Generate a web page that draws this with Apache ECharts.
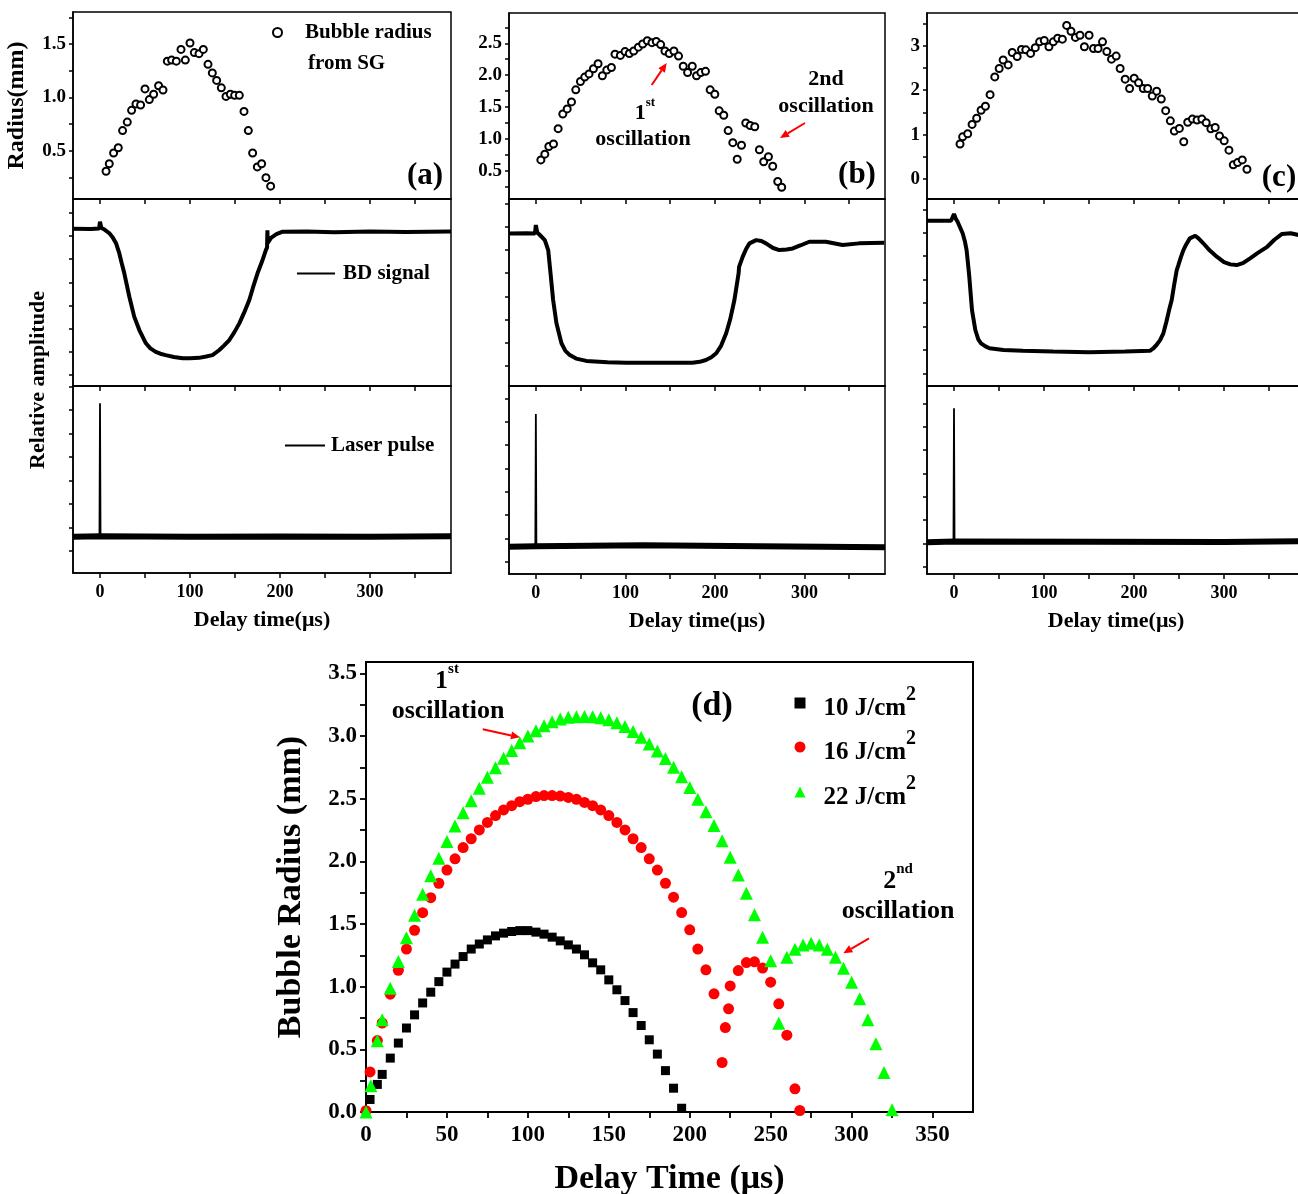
<!DOCTYPE html>
<html><head><meta charset="utf-8">
<script src="https://cdn.jsdelivr.net/npm/echarts@6/dist/echarts.min.js"></script>
<style>html,body{margin:0;padding:0;background:#fff}#c{width:1298px;height:1194px}</style>
</head><body><div id="c"></div>
<script>
// ---------- DATA ----------
// Panel (a)-(c), top: bubble radius from shadowgraph (delay µs, radius mm)
const radiusA = [[6.7,0.31],[10.3,0.38],[15.1,0.48],[20.3,0.53],[25.1,0.69],[30.3,0.77],[35.1,0.88],[40,0.94],[45.1,0.93],[50,1.08],[54.8,0.98],[59.6,1.03],[65.1,1.11],[70,1.07],[74.8,1.34],[79.6,1.35],[84.8,1.34],[90,1.45],[94.8,1.35],[100,1.51],[104.8,1.42],[110,1.41],[114.8,1.45],[120,1.31],[124.8,1.23],[129.6,1.16],[134.8,1.09],[140,1.01],[144.8,1.03],[149.6,1.02],[154.8,1.02],[160,0.87],[164.8,0.69],[169.6,0.48],[174.8,0.35],[179.6,0.38],[184.4,0.25],[189.6,0.17]];
const radiusB = [[5.6,0.67],[10,0.76],[14.5,0.88],[19.7,0.92],[24.9,1.16],[30.1,1.39],[35,1.47],[39.8,1.58],[44.6,1.77],[49.8,1.90],[54.6,1.97],[59.4,2.02],[64.3,2.10],[69.5,2.18],[74.3,1.99],[79.2,2.08],[84.4,2.12],[88.4,2.33],[94.4,2.31],[99.6,2.37],[104.4,2.34],[109.3,2.38],[114.5,2.44],[119.3,2.49],[124.5,2.54],[129.7,2.51],[134.5,2.53],[139.4,2.48],[144.2,2.38],[149,2.34],[154.2,2.38],[159.4,2.30],[164.6,2.14],[169.5,2.04],[174.7,2.14],[179.5,1.99],[184.3,2.04],[189.5,2.06],[194.7,1.77],[199.9,1.70],[204.8,1.44],[209.9,1.37],[214.8,1.13],[220,0.94],[224.9,0.68],[229.7,0.90],[234.5,1.25],[239.4,1.21],[244.5,1.19],[249.7,0.83],[254.5,0.64],[259.8,0.72],[264.6,0.57],[270.2,0.33],[274.6,0.24]];
const radiusC = [[6.7,0.79],[9.6,0.95],[15.2,1.02],[20.1,1.23],[25.2,1.37],[30.1,1.55],[34.9,1.64],[40.1,1.90],[45.3,2.30],[50.2,2.49],[54.6,2.68],[60.2,2.57],[64.7,2.85],[70.2,2.76],[75,2.92],[79.8,2.91],[85.1,2.83],[90.3,2.96],[95.1,3.09],[100.3,3.12],[105.5,2.98],[110.3,3.09],[115.2,3.17],[120.4,3.15],[125.2,3.46],[130,3.33],[134.9,3.19],[140,3.24],[144.9,2.98],[150.1,3.24],[155,2.94],[160.1,2.94],[165,3.09],[169.8,2.87],[175,2.70],[180.2,2.77],[184.6,2.49],[190.2,2.25],[195.1,2.04],[200.2,2.27],[205.1,2.17],[210.3,2.04],[215.2,2.04],[220.3,1.87],[225.2,1.98],[230.3,1.80],[235.2,1.54],[240.4,1.31],[244.8,1.08],[250.4,1.14],[255.3,0.84],[259.7,1.28],[264.9,1.35],[270.1,1.33],[275.4,1.35],[280.2,1.27],[285.4,1.13],[290.2,1.16],[295,0.97],[300.2,0.86],[305.5,0.65],[310.3,0.32],[315.1,0.37],[320.3,0.43],[325.5,0.22]];

// Middle: beam-deflection (BD) signal, relative amplitude (tick units)
const bdA = [[-30,6.31],[-10,6.30],[-1,6.33],[0,6.62],[1.5,6.35],[5,6.28],[10.4,6.12],[14,5.95],[17.8,5.69],[21.4,5.26],[24,4.85],[27,4.39],[32.6,3.38],[38,2.52],[43.7,1.94],[51,1.37],[56,1.15],[62,1.00],[67,0.92],[73,0.86],[82,0.78],[92,0.72],[100,0.72],[110,0.74],[118,0.80],[125,0.86],[132.6,1.08],[138,1.28],[143.7,1.51],[149,1.83],[154.8,2.23],[160,2.68],[165.9,3.24],[170,3.78],[175,4.39],[180,4.90],[184.4,5.40],[185.6,5.50],[186,6.25],[186.4,5.70],[190,5.92],[196,6.08],[203,6.19],[230,6.20],[260,6.16],[300,6.20],[340,6.18],[390,6.20]];
const bdB = [[-30,5.71],[-10,5.72],[-1,5.71],[0,6.07],[1.5,5.75],[4.5,5.64],[10,5.42],[13.8,4.99],[16.4,3.99],[19.3,2.84],[23,1.84],[28.6,0.98],[33,0.65],[37.9,0.47],[45,0.32],[56.5,0.22],[80,0.16],[101,0.14],[140,0.14],[175,0.14],[183,0.18],[190,0.26],[196,0.38],[201.5,0.55],[207,0.88],[212.6,1.41],[217,2.00],[221.8,2.84],[226.5,4.00],[227,4.27],[231,4.70],[235,5.05],[238.6,5.28],[246,5.42],[252,5.38],[257,5.28],[265,5.08],[272,4.99],[280,5.02],[287,5.06],[296,5.20],[305.5,5.35],[324,5.35],[342.6,5.21],[361,5.28],[389,5.31]];
const bdC = [[-30,6.51],[-3.3,6.51],[0,6.80],[2,6.60],[4,6.47],[9.6,5.98],[12,5.65],[14,5.26],[15.5,4.70],[17,4.12],[20,2.70],[23.7,1.85],[27,1.45],[30,1.28],[35,1.15],[39.4,1.07],[55,1.00],[76.5,0.96],[110,0.93],[150,0.90],[190,0.93],[217.7,0.96],[221,1.05],[225,1.21],[229,1.42],[232.6,1.71],[236,2.20],[239,2.70],[241.9,3.13],[244.5,3.75],[247.5,4.41],[249.3,4.62],[252,4.95],[254.9,5.26],[258,5.50],[262,5.76],[268,5.87],[272,5.75],[277,5.55],[284,5.25],[292,4.98],[300,4.75],[307,4.65],[314,4.62],[321,4.70],[329,4.91],[338,5.15],[348,5.40],[356,5.70],[364.5,5.95],[374,5.98],[383,5.90],[390,5.92]];

// Bottom: laser pulse (baseline + spike at t = 0)
const laserBaseA = [[-30,0.60],[0,0.62],[100,0.60],[200,0.61],[300,0.60],[390,0.62]];
const laserSpikeA = [[-0.6,0.61],[0,6.29],[0.6,0.61]];
const laserBaseB = [[-30,0.64],[0,0.66],[120,0.70],[250,0.66],[390,0.62]];
const laserSpikeB = [[-0.6,0.66],[0,6.33],[0.6,0.66]];
const laserBaseC = [[-30,1.05],[0,1.08],[150,1.07],[300,1.06],[390,1.10]];
const laserSpikeC = [[-0.6,1.07],[0,6.79],[0.6,1.07]];

// Panel (d): bubble radius vs delay time for three fluences
const fluenceNames = ['10 J/cm2','16 J/cm2','22 J/cm2'];
const radius10 = [[2.5,0.10],[7,0.22],[10,0.30],[15,0.43],[20,0.55],[25,0.67],[30,0.775],[35,0.87],[40,0.956],[45,1.04],[50,1.116],[55,1.18],[60,1.24],[65,1.30],[70,1.34],[75,1.373],[80,1.405],[85,1.427],[90,1.44],[95,1.447],[100,1.447],[105,1.435],[110,1.419],[115,1.395],[120,1.365],[125,1.333],[130,1.30],[135,1.254],[140,1.19],[145,1.134],[150,1.054],[155,0.975],[160,0.889],[165,0.793],[170,0.69],[175,0.576],[180,0.462],[185,0.33],[190,0.19],[195,0.03]];
const radius16 = [[0,0.01],[2.5,0.32],[7,0.57],[10,0.71],[15,0.94],[20,1.13],[25,1.30],[30,1.45],[35,1.59],[40,1.71],[45,1.825],[50,1.93],[55,2.02],[60,2.11],[65,2.18],[70,2.25],[75,2.31],[80,2.365],[85,2.41],[90,2.444],[95,2.476],[100,2.495],[105,2.516],[110,2.524],[115,2.524],[120,2.52],[125,2.51],[130,2.495],[135,2.47],[140,2.444],[145,2.41],[150,2.365],[155,2.31],[160,2.25],[165,2.18],[170,2.11],[175,2.02],[180,1.93],[185,1.825],[190,1.714],[195,1.591],[200,1.453],[205,1.30],[210,1.134],[215,0.943],[220,0.395],[222,0.674],[224,0.823],[225,1.006],[230,1.128],[235,1.192],[240,1.198],[245,1.148],[250,1.036],[255,0.863],[260,0.613],[265,0.185],[268,0.012]];
const radius22 = [[0,0.0],[3,0.21],[7,0.568],[10,0.735],[15,0.988],[20,1.20],[25,1.39],[30,1.57],[35,1.737],[40,1.884],[45,2.025],[50,2.157],[55,2.282],[60,2.388],[65,2.484],[70,2.583],[75,2.67],[80,2.747],[85,2.822],[90,2.883],[95,2.946],[100,3.0],[105,3.042],[110,3.082],[115,3.114],[120,3.136],[125,3.149],[130,3.154],[135,3.155],[140,3.153],[145,3.145],[150,3.13],[155,3.105],[160,3.075],[165,3.035],[170,2.99],[175,2.935],[180,2.88],[185,2.82],[190,2.75],[195,2.675],[200,2.588],[205,2.495],[210,2.396],[215,2.285],[220,2.163],[225,2.033],[230,1.89],[235,1.746],[240,1.573],[245,1.395],[250,1.206],[255,0.709],[260,1.235],[265,1.299],[270,1.333],[275,1.347],[280,1.333],[285,1.299],[290,1.235],[295,1.147],[300,1.036],[305,0.903],[310,0.735],[315,0.544],[320,0.315],[325,0.018]];

// Tick values
const topXTicks = [0,50,100,150,200,250,300,350];
const topXLabels = [0,100,200,300];
const ampTicks = [0,1,2,3,4,5,6,7];
const radATicks = [0.25,0.5,0.75,1.0,1.25,1.5,1.75];
const radALabels = [0.5,1.0,1.5];
const radBTicks = [0.25,0.5,0.75,1.0,1.25,1.5,1.75,2.0,2.25,2.5,2.75];
const radBLabels = [0.5,1.0,1.5,2.0,2.5];
const radCTicks = [0,0.5,1,1.5,2,2.5,3,3.5];
const radCLabels = [0,1,2,3];
const dXTicks = [0,25,50,75,100,125,150,175,200,225,250,275,300,325,350];
const dXLabels = [0,50,100,150,200,250,300,350];
const dYTicks = [0,0.25,0.5,0.75,1.0,1.25,1.5,1.75,2.0,2.25,2.5,2.75,3.0,3.25,3.5];
const dYLabels = [0,0.5,1.0,1.5,2.0,2.5,3.0,3.5];

// ---------- CHART ----------
const FONT = "'Liberation Serif','Times New Roman',serif";
const BLK = '#000';
const txt = (size) => ({color:BLK, fontFamily:FONT, fontWeight:'bold', fontSize:size});

const grids = [];
const xAxes = [];
const yAxes = [];
const series = [];
const colLeft = [73, 509, 927];
const colWidth = [378, 376, 378];
const rowTop = [[12,199,386],[13,199,386],[13,199,386]];
const rowH = [[187,187,187],[186,187,188],[186,187,188]];

function tickStyle(len, w){ return {show:true, inside:false, length:len, lineStyle:{color:BLK, width:w}}; }
const axLine = (w) => ({show:true, onZero:false, lineStyle:{color:BLK, width:w}});

const radCfg = [
  {min:0.05, max:1.80, ticks:radATicks, labels:radALabels, dec:1, name:'Radius(mm)'},
  {min:0.056, max:2.976, ticks:radBTicks, labels:radBLabels, dec:1, name:''},
  {min:-0.45, max:3.74, ticks:radCTicks, labels:radCLabels, dec:0, name:''}
];
const bdCfg = [{min:-0.475,max:7.6},{min:-0.86,max:7.19},{min:-0.54,max:7.44}];
const lsCfg = [{min:-0.94,max:7.02},{min:-0.53,max:7.53},{min:-0.31,max:7.74}];
const radData = [radiusA, radiusB, radiusC];
const bdData = [bdA, bdB, bdC];
const lsBase = [laserBaseA, laserBaseB, laserBaseC];
const lsSpike = [laserSpikeA, laserSpikeB, laserSpikeC];
const tags = ['a','b','c'];

for (let c = 0; c < 3; c++) {
  for (let r = 0; r < 3; r++) {
    const gi = grids.length;
    grids.push({left:colLeft[c], top:rowTop[c][r], width:colWidth[c], height:rowH[c][r],
      show:true, borderColor:BLK, borderWidth:1.5, backgroundColor:'transparent',
      containLabel:false, outerBoundsMode:'none'});
    const last = r === 2;
    xAxes.push({type:'value', gridIndex:gi, min:-30, max:390,
      axisLine:axLine(1.5),
      axisTick:Object.assign(tickStyle(5,1.5), {customValues:topXTicks}),
      axisLabel: last ? Object.assign(txt(18), {show:true, customValues:topXLabels, margin:10}) : {show:false},
      splitLine:{show:false},
      name: last ? 'Delay time(μs)' : '', nameLocation:'middle', nameGap:36,
      nameTextStyle: txt(22)});
    if (r === 0) {
      const cfg = radCfg[c];
      yAxes.push({type:'value', gridIndex:gi, min:cfg.min, max:cfg.max,
        axisLine:axLine(1.5),
        axisTick:Object.assign(tickStyle(4,1.5), {customValues:cfg.ticks}),
        axisLabel:Object.assign(txt(19), {customValues:cfg.labels, margin:7, formatter:(v)=>Number(v).toFixed(cfg.dec)}),
        splitLine:{show:false},
        name:cfg.name, nameLocation:'middle', nameGap:44, nameTextStyle:txt(24)});
      series.push({type:'scatter', name: c===0 ? 'Bubble radius' : 'Bubble radius ('+tags[c]+')',
        xAxisIndex:gi, yAxisIndex:gi, data:radData[c], symbol:'emptyCircle', symbolSize:7,
        itemStyle:{color:BLK, borderColor:BLK, borderWidth:1.3, opacity:1}});
    } else {
      const cfg = r === 1 ? bdCfg[c] : lsCfg[c];
      yAxes.push({type:'value', gridIndex:gi, min:cfg.min, max:cfg.max,
        axisLine:axLine(1.5),
        axisTick:Object.assign(tickStyle(4,1.5), {customValues:ampTicks}),
        axisLabel:{show:false}, splitLine:{show:false}});
      if (r === 1) {
        series.push({type:'line', name: c===0 ? 'BD signal' : 'BD signal ('+tags[c]+')',
          xAxisIndex:gi, yAxisIndex:gi, data:bdData[c], symbol:'none',
          lineStyle:{color:BLK, width:4}, itemStyle:{color:BLK}});
      } else {
        const nm = c===0 ? 'Laser pulse' : 'Laser pulse ('+tags[c]+')';
        series.push({type:'line', name:nm, xAxisIndex:gi, yAxisIndex:gi, data:lsBase[c], symbol:'none',
          lineStyle:{color:BLK, width:6}, itemStyle:{color:BLK}});
        series.push({type:'line', name:nm, xAxisIndex:gi, yAxisIndex:gi, data:lsSpike[c], symbol:'none',
          lineStyle:{color:BLK, width:1.8}, itemStyle:{color:BLK}});
      }
    }
  }
}

// panel (d)
grids.push({left:366, top:662, width:607, height:450, show:true, borderColor:BLK, borderWidth:2,
  backgroundColor:'transparent', containLabel:false, outerBoundsMode:'none'});
xAxes.push({type:'value', gridIndex:9, min:0, max:375,
  axisLine:axLine(2),
  axisTick:Object.assign(tickStyle(6,1.8), {customValues:dXTicks}),
  axisLabel:Object.assign(txt(23), {customValues:dXLabels, margin:12}),
  splitLine:{show:false},
  name:'Delay Time (μs)', nameLocation:'middle', nameGap:50, nameTextStyle:txt(34)});
yAxes.push({type:'value', gridIndex:9, min:0, max:3.59,
  axisLine:axLine(2),
  axisTick:Object.assign(tickStyle(6,1.8), {customValues:dYTicks}),
  axisLabel:Object.assign(txt(23), {customValues:dYLabels, margin:9, formatter:(v)=>Number(v).toFixed(1)}),
  splitLine:{show:false},
  name:'Bubble Radius (mm)', nameLocation:'middle', nameGap:58, nameTextStyle:txt(34)});
series.push({type:'scatter', name:fluenceNames[0], xAxisIndex:9, yAxisIndex:9, data:radius10,
  symbol:'rect', symbolSize:9, itemStyle:{color:'#000000', opacity:1}, z:2});
series.push({type:'scatter', name:fluenceNames[1], xAxisIndex:9, yAxisIndex:9, data:radius16,
  symbol:'circle', symbolSize:11, itemStyle:{color:'#ff0000', opacity:1}, z:3});
series.push({type:'scatter', name:fluenceNames[2], xAxisIndex:9, yAxisIndex:9, data:radius22,
  symbol:'triangle', symbolSize:13, itemStyle:{color:'#00ff00', opacity:1}, z:4});

// legends
const supRich = {
  t:Object.assign(txt(25), {lineHeight:36, verticalAlign:'bottom'}),
  s:Object.assign(txt(20), {lineHeight:19, verticalAlign:'top'})
};
const legends = [
  {data:['Bubble radius'], left:272, top:22, orient:'vertical', padding:0, itemWidth:9, itemHeight:9,
   selectedMode:false, textStyle:Object.assign(txt(21), {padding:[0,0,0,18]})},
  {data:['BD signal'], left:297, top:263, padding:0, icon:'rect', itemWidth:38, itemHeight:2, selectedMode:false,
   itemStyle:{color:BLK}, textStyle:Object.assign(txt(21), {padding:[0,0,0,3]})},
  {data:['Laser pulse'], left:285, top:435, padding:0, icon:'rect', itemWidth:40, itemHeight:2, selectedMode:false,
   itemStyle:{color:BLK}, textStyle:Object.assign(txt(21), {padding:[0,0,0,1]})}
];
const legendY = [703, 747, 792];
fluenceNames.forEach((n, i) => {
  legends.push({data:[n], left:794.5, top:legendY[i]-18, padding:0, itemWidth:11, itemHeight:11,
    selectedMode:false,
    formatter:(name)=>'{t|'+name.slice(0,-1)+'}{s|2}',
    textStyle:{padding:[0,0,0,13], rich:supRich}});
});

// annotations
function T(x, y, text, size, extra){
  return {type:'text', x, y, z:100, style:Object.assign({text, fill:BLK, fontFamily:FONT, fontWeight:'bold',
    fontSize:size, align:'center', verticalAlign:'middle'}, extra||{})};
}
function ordinal(x, y, num, suf, size, supSize){
  return {type:'text', x, y, z:100, style:{text:'{a|'+num+'}{b|'+suf+'}', align:'center', verticalAlign:'middle',
    rich:{a:{fill:BLK, fontFamily:FONT, fontWeight:'bold', fontSize:size, lineHeight:size+6, verticalAlign:'bottom'},
          b:{fill:BLK, fontFamily:FONT, fontWeight:'bold', fontSize:supSize, lineHeight:supSize, verticalAlign:'top'}}}};
}
function arrow(x1,y1,x2,y2){
  const a = Math.atan2(y2-y1, x2-x1), L = 9, W = 4;
  const bx = x2 - L*Math.cos(a), by = y2 - L*Math.sin(a);
  return [
    {type:'line', z:100, shape:{x1, y1, x2:bx, y2:by}, style:{stroke:'#ff0000', lineWidth:2}},
    {type:'polygon', z:100, shape:{points:[[x2,y2],[bx+W*Math.sin(a), by-W*Math.cos(a)],[bx-W*Math.sin(a), by+W*Math.cos(a)]]},
     style:{fill:'#ff0000'}}
  ];
}
const graphics = [
  T(308, 64, 'from SG', 21, {align:'left'}),
  T(425, 176, '(a)', 31),
  T(857, 175, '(b)', 31),
  T(1279, 178, '(c)', 31),
  Object.assign(T(38, 380, 'Relative amplitude', 22), {rotation:Math.PI/2}),
  ordinal(645, 110, '1', 'st', 22, 13),
  T(643, 139, 'oscillation', 22),
  T(826, 79, '2nd', 22),
  T(826, 106, 'oscillation', 22),
  ...arrow(651.7, 85, 666.7, 63),
  ...arrow(805, 123, 780, 138),
  ordinal(447, 678, '1', 'st', 26, 15),
  T(448, 711, 'oscillation', 26),
  ...arrow(482.7, 729.3, 520, 737.3),
  T(712, 706, '(d)', 34),
  ordinal(898, 878, '2', 'nd', 26, 15),
  T(898, 911, 'oscillation', 26),
  ...arrow(869, 938.3, 843.3, 953.3)
];

const chart = echarts.init(document.getElementById('c'), null, {renderer:'canvas'});
chart.setOption({
  animation:false,
  backgroundColor:'#fff',
  grid:grids, xAxis:xAxes, yAxis:yAxes, series:series,
  legend:legends,
  graphic:{elements:graphics}
});
</script>
</body></html>
